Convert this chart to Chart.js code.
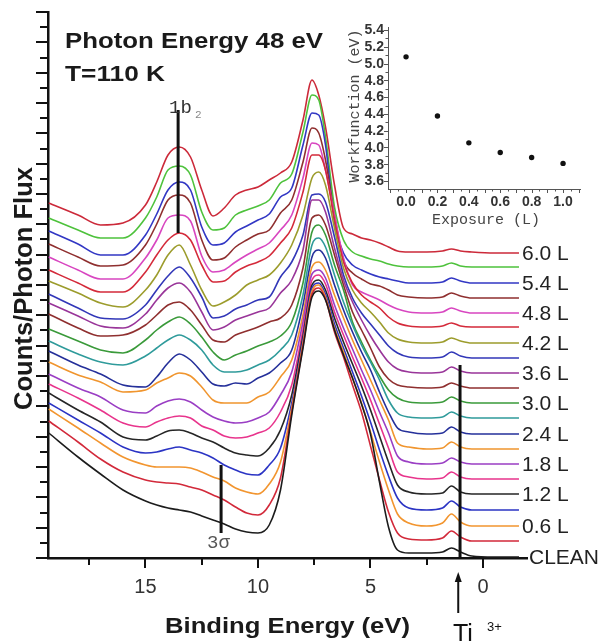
<!DOCTYPE html>
<html>
<head>
<meta charset="utf-8">
<title>Photon Energy 48 eV</title>
<script src="https://cdn.jsdelivr.net/npm/chart.js"></script>
<style>
  html, body { margin:0; padding:0; background:#fff; }
  #wrap { position:relative; width:600px; height:641px; overflow:hidden; }
  #mainChart { position:absolute; left:0; top:0; }
  #insetChart { position:absolute; left:330px; top:0; }
</style>
</head>
<body>
<div id="wrap">
  <canvas id="mainChart" width="600" height="641"></canvas>
  <canvas id="insetChart" width="270" height="240"></canvas>
</div>
<script>
// =============== data ===============
// binding energy grid (eV), shared by every spectrum
const energy = [19.3, 18.0, 17.0, 16.0, 15.0, 14.5, 14.0, 13.5, 13.0, 12.5, 12.0, 11.5, 11.0, 10.5, 10.0, 9.5, 9.0, 8.5, 8.0, 7.6, 7.3, 7.0, 6.6, 6.2, 5.8, 5.4, 5.0, 4.6, 4.2, 3.8, 3.3, 2.5, 1.8, 1.4, 1.0, 0.5, -0.5, -1.6];

// exposure of each spectrum (L), bottom to top
const exposures = [0.0, 0.3, 0.6, 0.9, 1.2, 1.5, 1.8, 2.1, 2.4, 2.7, 3.0, 3.3, 3.6, 3.9, 4.2, 4.5, 4.8, 5.1, 5.4, 5.7, 6.0];

// counts / photon flux (arb. units, curves already offset)
const clean = [125,101,84,68,57,53,50,48,46,42, 38,34,29,26,25,33,68,143,210,261, 267,258,228,203,180,154,124,76,31,8, 5,5,6,10,6,2,1,1];
const L03 = [137,116,99,86,78,76,75,74,71,68, 63,58,51,45,43,53,80,146,212,264, 270,259,226,201,173,146,112,78,46,25, 19,18,20,27,21,17,17,17];
const L06 = [149,130,115,101,93,91,91,91,90,86, 81,77,70,66,64,74,96,150,215,267, 273,261,230,206,180,155,126,96,68,44, 35,32,35,44,36,32,32,32];
const L09 = [155,138,125,111,105,106,109,111,108,105, 100,93,88,84,83,93,110,155,218,270, 275,264,234,210,186,162,136,108,82,60, 50,48,50,57,51,48,48,48];
const L12 = [165,148,136,121,118,122,127,128,125,120, 116,110,105,103,102,110,128,163,222,273, 278,268,240,216,194,172,148,122,96,73, 66,64,65,72,66,64,64,64];
const L15 = [174,160,148,135,131,136,140,142,140,132, 128,122,120,121,125,130,146,173,228,278, 283,274,246,223,201,180,158,134,110,86, 81,79,80,86,81,79,79,79];
const L18 = [184,170,161,148,145,152,157,159,156,148, 141,137,135,136,140,146,163,186,236,284, 288,280,253,230,209,188,168,146,125,102, 96,94,95,100,96,94,94,94];
const L21 = [196,183,176,166,168,175,180,185,182,171, 158,155,155,155,161,166,181,198,243,291, 296,288,263,240,218,198,178,158,138,115, 111,109,110,116,111,109,109,109];
const L24 = [207,193,184,173,171,181,195,204,198,186, 174,172,175,174,180,185,195,208,253,301, 308,300,273,248,226,206,188,166,146,130, 126,124,125,131,126,124,124,124];
const L27 = [217,204,196,193,202,210,218,223,218,208, 193,186,186,188,193,198,208,223,263,313, 320,311,283,256,233,213,196,178,158,145, 141,140,141,146,142,140,140,140];
const L30 = [229,217,208,205,218,228,236,241,234,221, 206,198,203,207,212,216,222,236,275,326, 333,323,293,268,236,216,198,182,168,160, 156,155,156,161,157,155,155,155];
const L33 = [244,230,222,223,233,243,253,256,248,233, 218,216,223,227,231,236,240,253,290,340, 343,333,303,273,246,228,210,191,179,173, 171,170,171,175,172,170,170,170];
const L36 = [255,242,232,230,244,258,270,275,266,246, 228,231,238,242,246,250,265,278,308,358, 358,346,310,278,256,238,222,208,196,189, 186,185,186,191,187,185,185,185];
const L39 = [264,250,240,239,253,268,282,291,280,261, 240,242,249,253,258,261,281,296,323,363, 364,356,321,283,260,245,234,223,212,205, 201,200,201,206,202,200,200,200];
const L42 = [277,265,255,251,268,283,303,313,293,268, 252,256,263,273,278,283,295,313,343,380, 386,373,330,290,268,255,246,236,225,219, 216,215,216,220,217,215,215,215];
const L45 = [288,275,266,266,286,303,318,325,318,293, 276,277,286,292,296,302,315,330,366,403, 403,388,338,296,275,263,256,250,241,235, 232,231,232,235,232,231,231,231];
const L48 = [301,288,279,279,300,318,340,343,337,302, 286,288,296,303,309,315,328,343,380,415, 413,388,343,300,273,266,262,258,253,249, 246,245,246,250,247,245,245,245];
const L51 = [314,301,292,293,313,334,358,363,355,318, 298,300,311,318,324,328,345,358,396,430, 425,398,343,298,285,279,274,272,268,263, 261,260,261,265,262,260,260,260];
const L54 = [327,314,303,303,323,344,368,376,368,331, 313,315,326,332,338,344,361,370,413,445, 443,413,336,305,293,288,284,281,279,277, 275,275,276,280,277,275,275,275];
const L57 = [340,328,320,320,340,361,388,392,383,346, 328,330,343,348,352,358,375,384,426,463, 458,421,351,318,306,302,299,297,294,292, 291,291,292,295,292,291,291,291];
const L60 = [355,343,333,335,353,376,403,411,401,368, 342,350,363,368,371,378,385,396,438,478, 463,431,373,330,324,320,318,315,311,307, 306,306,307,309,307,306,305,305];

const spectra = [clean, L03, L06, L09, L12, L15, L18, L21, L24, L27, L30, L33, L36, L39, L42, L45, L48, L51, L54, L57, L60];

const xTickLabels = [15, 10, 5, 0];

// inset: workfunction vs exposure
const insetExposure = [0.0, 0.2, 0.4, 0.6, 0.8, 1.0];
const workfunction = [5.08, 4.375, 4.055, 3.94, 3.88, 3.81];
const insetXTicks = [0.0, 0.2, 0.4, 0.6, 0.8, 1.0];
const insetYTicks = [3.6, 3.8, 4.0, 4.2, 4.4, 4.6, 4.8, 5.0, 5.2, 5.4];

// =============== styles ===============
const lineColors = [
  "#1c1c1c", "#d2293a", "#f2952f", "#2b34c4", "#262626", "#e8348c", "#9a3ec4",
  "#f0952e", "#25309a", "#2f9b9b", "#3a9a3a", "#8f2f2f", "#993599", "#3237b8",
  "#9c9c2c", "#d42a3a", "#d846c0", "#8f2f2f", "#3237c4", "#4ec23c", "#cc2a3a",
];
const SANS = "'Liberation Sans', Arial, sans-serif";
const MONO = "'Liberation Mono', 'DejaVu Sans Mono', monospace";
const Y_MAX = 546;

function curveLabel(i) {
  return i === 0 ? "CLEAN" : exposures[i].toFixed(1) + " L";
}

// draw text squeezed/stretched to a target width
function fitText(ctx, text, x, y, font, width) {
  ctx.save();
  ctx.font = font;
  const w = ctx.measureText(text).width;
  ctx.translate(x, y);
  ctx.scale(width / w, 1);
  ctx.fillText(text, 0, 0);
  ctx.restore();
}

/* ---------- main chart decorations ---------- */
const mainDecor = {
  id: "mainDecor",
  afterDraw(chart) {
    const { ctx, chartArea } = chart;
    const xs = chart.scales.x, ys = chart.scales.y;
    ctx.save();
    ctx.strokeStyle = "#111";
    ctx.lineWidth = 2;

    // y ticks (no labels), major every other
    for (let k = 0; k <= 36; k++) {
      const py = Math.round(ys.getPixelForValue(k * Y_MAX / 36));
      const len = k % 2 === 0 ? 12 : 8;
      ctx.beginPath(); ctx.moveTo(chartArea.left - len, py); ctx.lineTo(chartArea.left, py); ctx.stroke();
    }
    // x ticks, major every 5 eV
    for (let v = 0; v <= 17.5; v += 2.5) {
      const px = Math.round(xs.getPixelForValue(v));
      const len = v % 5 === 0 ? 10 : 7;
      ctx.beginPath(); ctx.moveTo(px, chartArea.bottom); ctx.lineTo(px, chartArea.bottom + len); ctx.stroke();
    }

    // marker lines
    ctx.lineWidth = 3;
    const vline = (e, h1, h2) => {
      const px = xs.getPixelForValue(e);
      ctx.beginPath(); ctx.moveTo(px, ys.getPixelForValue(h1)); ctx.lineTo(px, ys.getPixelForValue(h2)); ctx.stroke();
    };
    vline(13.55, 325, 448);  // 1b2
    vline(11.64, 25, 93);    // 3sigma
    vline(1.02, 0, 193);     // Ti3+

    // Ti3+ arrow under the axis
    const ax = xs.getPixelForValue(1.1);
    ctx.lineWidth = 2;
    ctx.beginPath(); ctx.moveTo(ax, chartArea.bottom + 55); ctx.lineTo(ax, chartArea.bottom + 22); ctx.stroke();
    ctx.fillStyle = "#111";
    ctx.beginPath();
    ctx.moveTo(ax, chartArea.bottom + 14);
    ctx.lineTo(ax - 3.5, chartArea.bottom + 24);
    ctx.lineTo(ax + 3.5, chartArea.bottom + 24);
    ctx.closePath(); ctx.fill();

    // annotation texts
    ctx.textBaseline = "alphabetic";
    ctx.textAlign = "left";
    ctx.fillStyle = "#333";
    ctx.font = "19px " + MONO;
    ctx.fillText("1b", 169, 113);
    ctx.fillStyle = "#888";
    ctx.font = "11px " + MONO;
    ctx.fillText("2", 195, 118);
    ctx.fillStyle = "#555";
    ctx.font = "19px " + MONO;
    ctx.fillText("3\u03c3", 207, 548);

    ctx.fillStyle = "#111";
    ctx.font = "25px " + SANS;
    ctx.fillText("Ti", 453, 642);
    ctx.font = "13px " + SANS;
    ctx.fillText("3+", 487, 631);

    // titles
    ctx.fillStyle = "#1a1a1a";
    fitText(ctx, "Photon Energy 48 eV", 65, 48, "bold 22px " + SANS, 258);
    fitText(ctx, "T=110 K", 65, 81, "bold 22px " + SANS, 100);
    fitText(ctx, "Binding Energy (eV)", 165, 633, "bold 22px " + SANS, 245);
    ctx.save();
    ctx.translate(32, 410);
    ctx.rotate(-Math.PI / 2);
    fitText(ctx, "Counts/Photon Flux", 0, 0, "bold 25px " + SANS, 243);
    ctx.restore();

    // exposure labels at the right end of every other curve
    ctx.fillStyle = "#222";
    ctx.font = "21px " + SANS;
    ctx.textBaseline = "middle";
    for (let i = 0; i < spectra.length; i += 2) {
      const vals = spectra[i];
      const py = ys.getPixelForValue(vals[vals.length - 1]) + 1.5;
      ctx.fillText(curveLabel(i), i === 0 ? 529 : 522, py);
    }
    ctx.restore();
  },
};

/* ---------- inset decorations ---------- */
const insetDecor = {
  id: "insetDecor",
  afterDraw(chart) {
    const { ctx, chartArea } = chart;
    const xs = chart.scales.x, ys = chart.scales.y;
    ctx.save();
    ctx.strokeStyle = "#555";
    ctx.lineWidth = 1;
    for (let k = -2; k <= 22; k++) {
      const px = Math.round(xs.getPixelForValue(k * 0.05)) + 0.5;
      const len = k % 2 === 0 ? 4 : 2.5;
      ctx.beginPath(); ctx.moveTo(px, chartArea.bottom); ctx.lineTo(px, chartArea.bottom + len); ctx.stroke();
    }
    for (let k = 36; k <= 54; k++) {
      const py = Math.round(ys.getPixelForValue(k / 10)) + 0.5;
      const len = k % 2 === 0 ? 4 : 2.5;
      ctx.beginPath(); ctx.moveTo(chartArea.left - len, py); ctx.lineTo(chartArea.left, py); ctx.stroke();
    }

    // y tick labels
    ctx.fillStyle = "#333";
    ctx.font = "bold 14px " + SANS;
    ctx.textAlign = "right";
    ctx.textBaseline = "middle";
    insetYTicks.forEach(v => ctx.fillText(v.toFixed(1), chartArea.left - 4, ys.getPixelForValue(v) + 0.5));

    ctx.fillStyle = "#444";
    ctx.font = "15px " + MONO;
    ctx.textAlign = "center";
    ctx.fillText("Exposure (L)", 156, 220);
    ctx.translate(25, 106);
    ctx.rotate(-Math.PI / 2);
    ctx.fillText("Workfunction (eV)", 0, 0);
    ctx.restore();
  },
};

/* ---------- charts ---------- */
function createMainChart() {
  const datasets = spectra.map((vals, i) => ({
    label: curveLabel(i),
    data: energy.map((e, k) => ({ x: e, y: vals[k] })),
    borderColor: lineColors[i],
    borderWidth: 1.6,
    pointRadius: 0,
    fill: false,
    cubicInterpolationMode: "monotone",
  }));

  return new Chart(document.getElementById("mainChart"), {
    type: "line",
    data: { datasets },
    options: {
      responsive: false,
      animation: false,
      devicePixelRatio: 1,
      layout: { padding: { left: 48, right: 73, top: 12, bottom: 0 } },
      plugins: { legend: { display: false }, tooltip: { enabled: false } },
      scales: {
        x: {
          type: "linear", reverse: true, min: -1.956, max: 19.333,
          afterBuildTicks: s => { s.ticks = xTickLabels.map(v => ({ value: v })); },
          afterFit: s => { s.height = 83; },
          grid: { display: false, drawTicks: false },
          border: { display: true, color: "#111", width: 2.5 },
          ticks: { color: "#333", font: { family: SANS, size: 20 }, padding: 17, maxRotation: 0, autoSkip: false },
        },
        y: {
          type: "linear", min: 0, max: Y_MAX,
          afterFit: s => { s.width = 0; },
          grid: { display: false, drawTicks: false },
          border: { display: true, color: "#111", width: 2.5 },
          ticks: { display: false },
        },
      },
    },
    plugins: [mainDecor],
  });
}

function createInsetChart() {
  return new Chart(document.getElementById("insetChart"), {
    type: "scatter",
    data: {
      datasets: [{
        label: "Workfunction",
        data: insetExposure.map((x, i) => ({ x, y: workfunction[i] })),
        pointRadius: 2.7,
        pointBackgroundColor: "#111",
        pointBorderWidth: 0,
      }],
    },
    options: {
      responsive: false,
      animation: false,
      devicePixelRatio: 1,
      layout: { padding: { left: 58, right: 20, top: 27, bottom: 0 } },
      plugins: { legend: { display: false }, tooltip: { enabled: false } },
      scales: {
        x: {
          type: "linear", min: -0.115, max: 1.108,
          afterBuildTicks: s => { s.ticks = insetXTicks.map(v => ({ value: v })); },
          afterFit: s => { s.height = 51; },
          grid: { display: false, drawTicks: false },
          border: { display: true, color: "#555", width: 1 },
          ticks: { color: "#333", font: { family: SANS, size: 14, weight: "bold" }, padding: 5,
                   maxRotation: 0, autoSkip: false, callback: v => Number(v).toFixed(1) },
        },
        y: {
          type: "linear", min: 3.505, max: 5.436,
          afterFit: s => { s.width = 0; },
          grid: { display: false, drawTicks: false },
          border: { display: true, color: "#555", width: 1 },
          ticks: { display: false },
        },
      },
    },
    plugins: [insetDecor],
  });
}

createMainChart();
createInsetChart();
</script>
</body>
</html>
